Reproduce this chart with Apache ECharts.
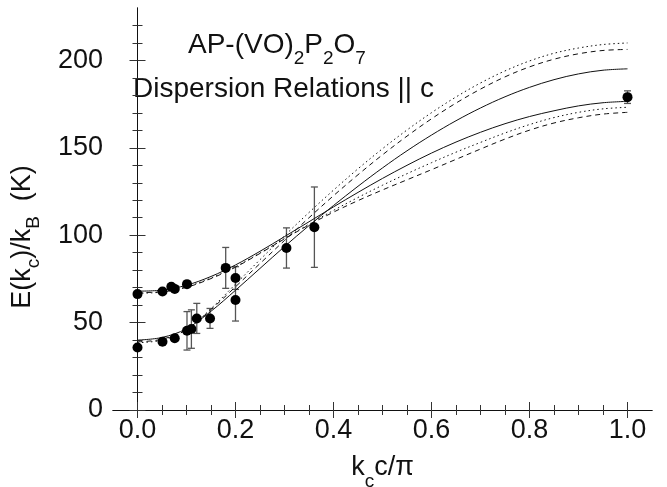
<!DOCTYPE html>
<html>
<head>
<meta charset="utf-8">
<script src="https://cdn.jsdelivr.net/npm/echarts@6/dist/echarts.min.js"></script>
<style>
  html, body { margin: 0; padding: 0; background: #fff; }
  #chart { width: 667px; height: 487px; }
</style>
</head>
<body>
<div id="chart"></div>
<script>
  // k_c c / pi grid used for the calculated curves
  var kGrid = [0, 0.05, 0.1, 0.15, 0.2, 0.25, 0.3, 0.35, 0.4, 0.45, 0.5,
               0.55, 0.6, 0.65, 0.7, 0.75, 0.8, 0.85, 0.9, 0.95, 1.0];

  // branch starting low (~39 K), rising to ~195-210 K
  var steepSolid  = [40, 41.5, 46.5, 56.5, 68.5, 81, 93.5, 105.5, 117, 128, 138.5,
                     148.3, 157.3, 165.5, 172.8, 179.2, 184.6, 189, 192.3, 194.4, 195.2];
  var steepDashed = [39, 40.5, 46, 57.5, 70.5, 83.8, 97, 110, 122.6, 134.6, 146,
                     156.7, 166.6, 175.6, 183.6, 190.6, 196.3, 200.7, 203.8, 205.7, 206.3];
  var steepDotted = [38.5, 40, 46, 58, 72, 86, 99.7, 113, 125.8, 138, 149.5,
                     160.2, 170.1, 179.1, 187.1, 194, 199.7, 204.1, 207.1, 209.1, 210];

  // branch starting high (~67 K), ending at ~170-177 K
  var flatSolid  = [68, 68.6, 71.4, 76.4, 83, 90.8, 99.2, 107.7, 116.2, 124.5, 132.5,
                    140, 147, 153.3, 158.9, 163.8, 167.9, 171.2, 174, 175.8, 176.6];
  var flatDotted = [66.8, 67.5, 70.5, 75.5, 82, 89.8, 98.1, 106.3, 114.2, 121.6, 128.6,
                    135.2, 141.5, 147.5, 153.1, 158.5, 163.3, 167.3, 170.3, 172.3, 173.2];
  var flatDashed = [67.2, 67.6, 70.2, 75.2, 81.7, 89.6, 97.9, 105.9, 113.2, 119.8, 125.9,
                    131.7, 137.5, 143.4, 149.3, 155, 160.1, 164.2, 167.2, 169.3, 170.3];

  // measured points: k, E, error (0 = no bar drawn)
  var ptK   = [0, 0.051, 0.069, 0.076, 0.101, 0.18, 0.2,
               0, 0.051, 0.076, 0.101, 0.11, 0.121, 0.148, 0.2, 0.304, 0.361, 1.0];
  var ptE   = [66.3, 67.8, 70.5, 69.3, 72, 81.3, 75.5,
               35.8, 39, 41, 45.3, 46.3, 52.4, 52.4, 62.9, 92.7, 104.6, 179];
  var ptErr = [0, 0, 0, 0, 0, 11.7, 6.5,
               0, 0, 0, 11, 11, 8.6, 5.7, 12, 11.5, 23, 3.6];

  // ticks
  var xMajor = [0, 0.2, 0.4, 0.6, 0.8, 1.0];
  var xMinor = [0.05, 0.1, 0.15, 0.25, 0.3, 0.35, 0.45, 0.5, 0.55, 0.65, 0.7, 0.75, 0.85, 0.9, 0.95];
  var yMajor = [0, 50, 100, 150, 200];
  var yMinor = [10, 20, 30, 40, 60, 70, 80, 90, 110, 120, 130, 140, 160, 170, 180, 190, 210, 220];

  var FONT = "'Liberation Sans', Arial, Helvetica, sans-serif";
  var INK = '#111';

  function zip(xs, ys) {
    return xs.map(function (x, i) { return [x, ys[i]]; });
  }

  var points = ptK.map(function (k, i) { return [k, ptE[i], ptErr[i]]; });

  function frameAxis(pos, values, len, base) {
    return {
      type: 'value',
      position: pos,
      axisLine: { show: base, lineStyle: { color: INK, width: 1 } },
      axisTick: { show: true, inside: true, length: len, customValues: values,
                  lineStyle: { color: '#333', width: 1 } },
      axisLabel: { show: false },
      splitLine: { show: false }
    };
  }

  function xAxisOf(pos, values, len, base) {
    var a = frameAxis(pos, values, len, base);
    a.min = -0.05; a.max = 1.05;
    return a;
  }
  function yAxisOf(pos, values, len, base) {
    var a = frameAxis(pos, values, len, base);
    a.min = 0; a.max = 230;
    return a;
  }

  var xMain = xAxisOf('bottom', xMajor, 8, true);
  xMain.axisLabel = {
    show: true, customValues: xMajor, margin: 7,
    color: INK, fontFamily: FONT, fontSize: 27,
    formatter: function (v) { return v.toFixed(1); }
  };
  xMain.name = '{m|k}{s|c}{m|c/\u03c0}';
  xMain.nameLocation = 'middle';
  xMain.nameGap = 34;
  xMain.nameTextStyle = {
    color: INK, fontFamily: FONT,
    rich: {
      m: { fontSize: 27, fontFamily: FONT, color: INK },
      s: { fontSize: 19, fontFamily: FONT, color: INK, padding: [28, 0, 0, 0] }
    }
  };

  var yMain = yAxisOf('left', yMajor, 8, true);
  yMain.axisLabel = {
    show: true, customValues: yMajor, margin: 10,
    color: INK, fontFamily: FONT, fontSize: 27
  };
  yMain.name = '{m|E(k}{s|c}{m|)/k}{s|B}{m|  (K)}';
  yMain.nameLocation = 'middle';
  yMain.nameGap = 70;
  yMain.nameRotate = 90;
  yMain.nameTextStyle = {
    color: INK, fontFamily: FONT, padding: [0, 56, 0, 0],
    rich: {
      m: { fontSize: 27, fontFamily: FONT, color: INK },
      s: { fontSize: 19, fontFamily: FONT, color: INK, padding: [22, 0, 0, 0] }
    }
  };

  function curve(data, type) {
    return {
      type: 'line',
      data: zip(kGrid, data),
      showSymbol: false,
      smooth: 0.35,
      silent: true,
      lineStyle: { color: INK, width: 1, type: type }
    };
  }

  var option = {
    backgroundColor: '#fff',
    animation: false,
    grid: { left: 113, right: 15, top: 8, bottom: 77, outerBoundsMode: 'none' },
    xAxis: [
      xMain,
      xAxisOf('bottom', xMinor, 5, false),
      xAxisOf('top', xMajor, 8, true),
      xAxisOf('top', xMinor, 5, false)
    ],
    yAxis: [
      yMain,
      yAxisOf('left', yMinor, 5, false),
      yAxisOf('right', yMajor, 8, true),
      yAxisOf('right', yMinor, 5, false)
    ],
    graphic: [
      {
        type: 'text', left: 188, top: 31,
        style: {
          text: '{m|AP-(VO)}{s|2}{m|P}{s|2}{m|O}{s|7}',
          fill: INK,
          rich: {
            m: { fontSize: 28, fontFamily: FONT, fill: INK },
            s: { fontSize: 19, fontFamily: FONT, fill: INK, padding: [28, 0, 0, 0] }
          }
        }
      },
      {
        type: 'text', left: 133, top: 75,
        style: {
          text: 'Dispersion Relations || c',
          fill: INK, fontSize: 28, fontFamily: FONT
        }
      }
    ],
    series: [
      curve(steepSolid, 'solid'),
      curve(steepDashed, [5, 4]),
      curve(steepDotted, [1.5, 3]),
      curve(flatSolid, 'solid'),
      curve(flatDashed, [5, 4]),
      curve(flatDotted, [1.5, 3]),
      {
        type: 'custom',
        data: points,
        silent: true,
        z: 3,
        renderItem: function (params, api) {
          var err = api.value(2);
          if (!err) return null;
          var x = api.value(0), y = api.value(1);
          var top = api.coord([x, y + err]);
          var bot = api.coord([x, y - err]);
          var w = 3.5;
          var st = { stroke: '#555', lineWidth: 1.3 };
          return {
            type: 'group',
            children: [
              { type: 'line', shape: { x1: top[0], y1: top[1], x2: bot[0], y2: bot[1] }, style: st },
              { type: 'line', shape: { x1: top[0] - w, y1: top[1], x2: top[0] + w, y2: top[1] }, style: st },
              { type: 'line', shape: { x1: bot[0] - w, y1: bot[1], x2: bot[0] + w, y2: bot[1] }, style: st }
            ]
          };
        }
      },
      {
        type: 'scatter',
        data: points.map(function (p) { return [p[0], p[1]]; }),
        symbol: 'circle',
        symbolSize: 10,
        z: 4,
        itemStyle: { color: '#000', opacity: 1 }
      }
    ]
  };

  var chart = echarts.init(document.getElementById('chart'), null, { renderer: 'canvas' });
  chart.setOption(option);
</script>
</body>
</html>
